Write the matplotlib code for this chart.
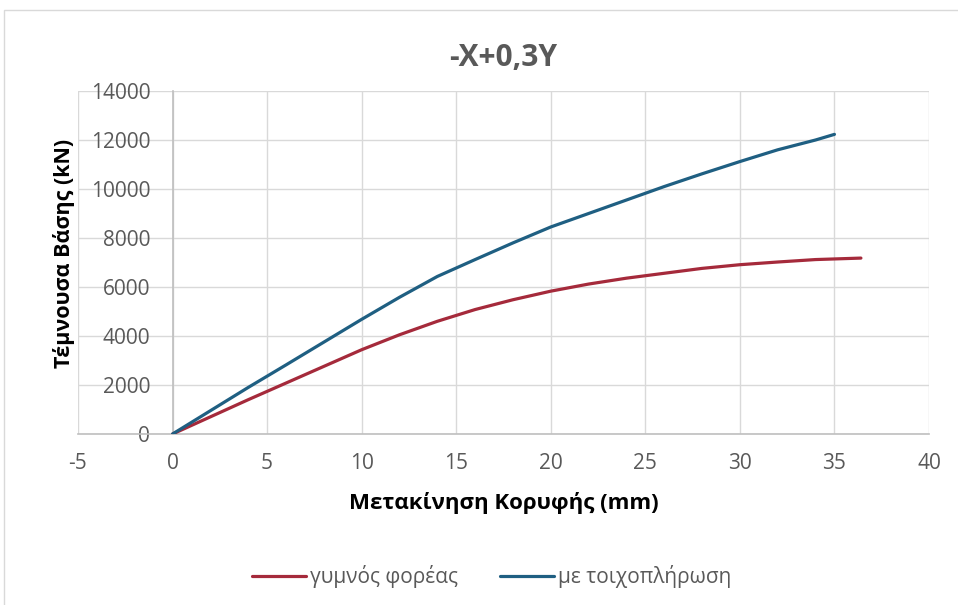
import numpy as np
import matplotlib.pyplot as plt
from matplotlib.patches import Rectangle

plt.rcParams['font.family'] = ['Open Sans', 'DejaVu Sans']
plt.rcParams['axes.unicode_minus'] = False

# μετακίνηση κορυφής (mm) και τέμνουσα βάσης (kN)
x_gymnos = [0, 2, 4, 6, 8, 10, 12, 14, 16, 18, 20, 22, 24, 26, 28, 30, 32, 34, 36.4]
v_gymnos = [0, 700, 1400, 2080, 2760, 3440, 4050, 4600, 5080, 5480, 5830, 6120,
            6360, 6560, 6760, 6910, 7020, 7120, 7180]
x_toixo = [0, 2, 4, 6, 8, 10, 12, 14, 16, 18, 20, 22, 24, 26, 28, 30, 32, 34, 35]
v_toixo = [0, 950, 1900, 2820, 3750, 4680, 5580, 6430, 7120, 7800, 8450, 9000,
           9550, 10100, 10620, 11120, 11600, 12000, 12230]

fig = plt.figure(figsize=(9.58, 6.05), dpi=100)
fig.patches.append(Rectangle((4 / 958, -0.05), 1.1, 1 - 10 / 605 + 0.05,
                             transform=fig.transFigure, fill=False,
                             edgecolor='#d9d9d9', linewidth=1))
ax = fig.add_axes([78 / 958, 1 - 434 / 605, (929 - 78) / 958, (434 - 91) / 605])

ax.plot(x_gymnos, v_gymnos, color='#A52A3B', linewidth=2.3,
        solid_capstyle='round', label='γυμνός φορέας', zorder=3)
ax.plot(x_toixo, v_toixo, color='#1F5F82', linewidth=2.3,
        solid_capstyle='round', label='με τοιχοπλήρωση', zorder=3)

ax.set_xlim(-5, 40)
ax.set_ylim(0, 14000)
ax.set_xticks(np.arange(-5, 41, 5))
ax.set_yticks(np.arange(0, 14001, 2000))
ax.grid(True, color='#d9d9d9', linewidth=1)

# ο κατακόρυφος άξονας περνά από το x = 0
for s in ['top', 'right']:
    ax.spines[s].set_visible(False)
ax.spines['left'].set_position(('data', 0))
ax.spines['left'].set_color('#bfbfbf')
ax.spines['bottom'].set_color('#bfbfbf')
ax.spines['left'].set_linewidth(1.2)
ax.spines['bottom'].set_linewidth(1.2)
ax.tick_params(length=0, labelsize=15, colors='#595959')
ax.tick_params(axis='y', pad=16)
ax.tick_params(axis='x', pad=14)
ax.set_axisbelow(True)

fig.text(0.5 * (78 + 929) / 958, 1 - 58 / 605, '-X+0,3Y', fontsize=21.5,
         fontweight='bold', color='#595959', ha='center', va='center')
fig.text(0.5 * (78 + 929) / 958, 1 - 503 / 605, 'Μετακίνηση Κορυφής (mm)',
         fontsize=16, fontweight='bold', ha='center', va='center')
fig.text(64 / 958, 1 - 253 / 605, 'Τέμνουσα Βάσης (kN)', rotation=90,
         fontsize=15.5, fontweight='bold', ha='center', va='center')

leg = fig.legend(loc='center', bbox_to_anchor=(492 / 958, 1 - 577 / 605), ncol=2,
                 frameon=False, fontsize=15, handlelength=2.6, handletextpad=0.2,
                 columnspacing=2.0)
for t in leg.get_texts():
    t.set_color('#595959')

fig.savefig('out.png', dpi=100)
